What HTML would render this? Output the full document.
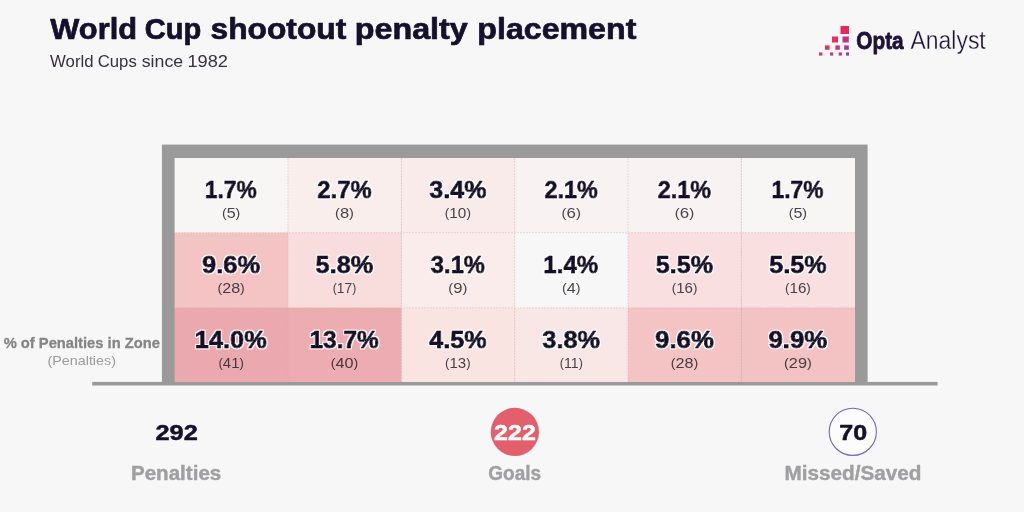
<!DOCTYPE html>
<html lang="en"><head><meta charset="utf-8"><title>World Cup shootout penalty placement</title>
<style>
html,body{margin:0;padding:0;background:#f7f7f7;}
body{width:1024px;height:512px;overflow:hidden;}
svg{display:block;}
text{font-family:"Liberation Sans",Arial,sans-serif;}
.num{font-weight:700;font-size:23.3px;fill:#15102b;stroke:#15102b;stroke-width:.9px;stroke-linejoin:round;filter:url(#halo);}
.sub{font-size:14.4px;fill:#222228;fill-opacity:.84;}
.p{font-size:12.7px;}
</style></head><body>
<svg width="1024" height="512" viewBox="0 0 1024 512">
<defs>
<filter id="halo" x="-10%" y="-20%" width="120%" height="140%">
<feMorphology in="SourceAlpha" operator="dilate" radius="1.2" result="d"/>
<feGaussianBlur in="d" stdDeviation="0.45" result="db"/>
<feFlood flood-color="#ffffff" flood-opacity="0.92"/>
<feComposite in2="db" operator="in" result="h"/>
<feMerge><feMergeNode in="h"/><feMergeNode in="SourceGraphic"/></feMerge>
</filter>
</defs>
<rect width="1024" height="512" fill="#f7f7f7"/>
<g id="logo">
<rect x="840.5" y="26" width="8.5" height="8" fill="#e8285a"/>
<rect x="832" y="36.5" width="6" height="6" fill="#e62e58"/>
<rect x="842.5" y="36.5" width="6.3" height="6" fill="#c52f8c"/>
<rect x="825" y="45.4" width="4.6" height="4.4" fill="#e23356"/>
<rect x="835.4" y="45.4" width="4.4" height="4.4" fill="#cc3478"/>
<rect x="844.2" y="45.4" width="4.6" height="4.4" fill="#a632ae"/>
<rect x="819" y="52.4" width="3.3" height="3.2" fill="#d53a62"/>
<rect x="830" y="52.4" width="3.2" height="3.2" fill="#c43a80"/>
<rect x="838.7" y="52.4" width="3.2" height="3.2" fill="#b03aa4"/>
<rect x="846" y="52.4" width="3" height="3.2" fill="#9a36b4"/>
</g>
<rect x="161.9" y="144.6" width="705.7" height="238.4" fill="#9a9a9a"/>
<rect x="92.2" y="381.9" width="845.4" height="3.6" fill="#9a9a9a"/>
<rect x="174.60" y="158.0" width="113.65" height="75.00" fill="#f8f5f5"/>
<rect x="287.95" y="158.0" width="113.65" height="75.00" fill="#f9eeec"/>
<rect x="401.30" y="158.0" width="113.65" height="75.00" fill="#f9ebe9"/>
<rect x="514.65" y="158.0" width="113.65" height="75.00" fill="#f8f3f2"/>
<rect x="628.00" y="158.0" width="113.65" height="75.00" fill="#f8f3f2"/>
<rect x="741.35" y="158.0" width="113.65" height="75.00" fill="#f8f5f5"/>
<rect x="174.60" y="232.7" width="113.65" height="75.40" fill="#f4c4c4"/>
<rect x="287.95" y="232.7" width="113.65" height="75.40" fill="#f9dcdc"/>
<rect x="401.30" y="232.7" width="113.65" height="75.40" fill="#f9eceb"/>
<rect x="514.65" y="232.7" width="113.65" height="75.40" fill="#f8f7f7"/>
<rect x="628.00" y="232.7" width="113.65" height="75.40" fill="#f9dfdf"/>
<rect x="741.35" y="232.7" width="113.65" height="75.40" fill="#f9dfdf"/>
<rect x="174.60" y="307.8" width="113.65" height="74.20" fill="#eba9af"/>
<rect x="287.95" y="307.8" width="113.65" height="74.20" fill="#ecacb1"/>
<rect x="401.30" y="307.8" width="113.65" height="74.20" fill="#f9e4e1"/>
<rect x="514.65" y="307.8" width="113.65" height="74.20" fill="#f9e7e5"/>
<rect x="628.00" y="307.8" width="113.65" height="74.20" fill="#f4c4c4"/>
<rect x="741.35" y="307.8" width="113.65" height="74.20" fill="#f3c2c2"/>
<line x1="287.95" y1="158" x2="287.95" y2="382" stroke="#c4b0b0" stroke-opacity=".48" stroke-width="0.9" stroke-dasharray="2 1"/>
<line x1="401.30" y1="158" x2="401.30" y2="382" stroke="#c4b0b0" stroke-opacity=".48" stroke-width="0.9" stroke-dasharray="2 1"/>
<line x1="514.65" y1="158" x2="514.65" y2="382" stroke="#c4b0b0" stroke-opacity=".48" stroke-width="0.9" stroke-dasharray="2 1"/>
<line x1="628.00" y1="158" x2="628.00" y2="382" stroke="#c4b0b0" stroke-opacity=".48" stroke-width="0.9" stroke-dasharray="2 1"/>
<line x1="741.35" y1="158" x2="741.35" y2="382" stroke="#c4b0b0" stroke-opacity=".48" stroke-width="0.9" stroke-dasharray="2 1"/>
<line x1="175" y1="232.7" x2="855" y2="232.7" stroke="#c4b0b0" stroke-opacity=".42" stroke-width="0.9" stroke-dasharray="2 1"/>
<line x1="175" y1="307.8" x2="855" y2="307.8" stroke="#c4b0b0" stroke-opacity=".42" stroke-width="0.9" stroke-dasharray="2 1"/>
<circle cx="514.9" cy="431.9" r="24.1" fill="#e1606b"/>
<circle cx="852.8" cy="431.8" r="23.6" fill="#fcfcfc" stroke="#7464c8" stroke-width="1.1"/>
<text id="title"><tspan x="50.36" y="39.4" font-size="30.0" fill="#15102b" font-weight="700" stroke="#15102b" stroke-width="0.7" stroke-linejoin="round" textLength="86.68" lengthAdjust="spacingAndGlyphs">World</tspan> <tspan x="144.83" y="39.4" font-size="30.0" fill="#15102b" font-weight="700" stroke="#15102b" stroke-width="0.7" stroke-linejoin="round" textLength="56.57" lengthAdjust="spacingAndGlyphs">Cup</tspan> <tspan x="210.51" y="39.4" font-size="30.0" fill="#15102b" font-weight="700" stroke="#15102b" stroke-width="0.7" stroke-linejoin="round" textLength="135.74" lengthAdjust="spacingAndGlyphs">shootout</tspan> <tspan x="354.72" y="39.4" font-size="30.0" fill="#15102b" font-weight="700" stroke="#15102b" stroke-width="0.7" stroke-linejoin="round" textLength="113.05" lengthAdjust="spacingAndGlyphs">penalty</tspan> <tspan x="477.32" y="39.4" font-size="30.0" fill="#15102b" font-weight="700" stroke="#15102b" stroke-width="0.7" stroke-linejoin="round" textLength="159.03" lengthAdjust="spacingAndGlyphs">placement</tspan></text>
<text id="subtitle"><tspan x="50.05" y="66.5" font-size="16.6" fill="#36323a" textLength="43.51" lengthAdjust="spacingAndGlyphs">World</tspan> <tspan x="97.74" y="66.5" font-size="16.6" fill="#36323a" textLength="39.01" lengthAdjust="spacingAndGlyphs">Cups</tspan> <tspan x="141.77" y="66.5" font-size="16.6" fill="#36323a" textLength="41.33" lengthAdjust="spacingAndGlyphs">since</tspan> <tspan x="187.43" y="66.5" font-size="16.6" fill="#36323a" textLength="40.48" lengthAdjust="spacingAndGlyphs">1982</tspan></text>
<text x="856.37" y="49.2" font-size="24.0" fill="#1e1235" font-weight="700" stroke="#1e1235" stroke-width="0.8" stroke-linejoin="round" textLength="47.23" lengthAdjust="spacingAndGlyphs">Opta</text>
<text x="910.60" y="49.2" font-size="24.9" fill="#1e1235" stroke="#f7f7f7" stroke-width="0.3" textLength="75.12" lengthAdjust="spacingAndGlyphs">Analyst</text>
<text class="num" x="204.69" y="198.1" textLength="52.09" lengthAdjust="spacingAndGlyphs">1.7%</text>
<text class="sub" x="221.99" y="218.1" textLength="18.35" lengthAdjust="spacingAndGlyphs"><tspan class="p" dy="-1.3">(</tspan><tspan dy="1.3">5</tspan><tspan class="p" dy="-1.3">)</tspan></text>
<text class="num" x="317.27" y="198.1" textLength="54.37" lengthAdjust="spacingAndGlyphs">2.7%</text>
<text class="sub" x="335.06" y="218.1" textLength="18.90" lengthAdjust="spacingAndGlyphs"><tspan class="p" dy="-1.3">(</tspan><tspan dy="1.3">8</tspan><tspan class="p" dy="-1.3">)</tspan></text>
<text class="num" x="429.38" y="198.1" textLength="57.12" lengthAdjust="spacingAndGlyphs">3.4%</text>
<text class="sub" x="444.83" y="218.1" textLength="26.08" lengthAdjust="spacingAndGlyphs"><tspan class="p" dy="-1.3">(</tspan><tspan dy="1.3">10</tspan><tspan class="p" dy="-1.3">)</tspan></text>
<text class="num" x="544.47" y="198.1" textLength="53.36" lengthAdjust="spacingAndGlyphs">2.1%</text>
<text class="sub" x="561.54" y="218.1" textLength="19.34" lengthAdjust="spacingAndGlyphs"><tspan class="p" dy="-1.3">(</tspan><tspan dy="1.3">6</tspan><tspan class="p" dy="-1.3">)</tspan></text>
<text class="num" x="657.82" y="198.1" textLength="53.36" lengthAdjust="spacingAndGlyphs">2.1%</text>
<text class="sub" x="674.89" y="218.1" textLength="19.34" lengthAdjust="spacingAndGlyphs"><tspan class="p" dy="-1.3">(</tspan><tspan dy="1.3">6</tspan><tspan class="p" dy="-1.3">)</tspan></text>
<text class="num" x="771.44" y="198.1" textLength="52.09" lengthAdjust="spacingAndGlyphs">1.7%</text>
<text class="sub" x="788.74" y="218.1" textLength="18.35" lengthAdjust="spacingAndGlyphs"><tspan class="p" dy="-1.3">(</tspan><tspan dy="1.3">5</tspan><tspan class="p" dy="-1.3">)</tspan></text>
<text class="num" x="202.00" y="272.8" textLength="58.19" lengthAdjust="spacingAndGlyphs">9.6%</text>
<text class="sub" x="217.49" y="292.8" textLength="27.36" lengthAdjust="spacingAndGlyphs"><tspan class="p" dy="-1.3">(</tspan><tspan dy="1.3">28</tspan><tspan class="p" dy="-1.3">)</tspan></text>
<text class="num" x="315.60" y="272.8" textLength="57.69" lengthAdjust="spacingAndGlyphs">5.8%</text>
<text class="sub" x="332.81" y="292.8" textLength="23.42" lengthAdjust="spacingAndGlyphs"><tspan class="p" dy="-1.3">(</tspan><tspan dy="1.3">17</tspan><tspan class="p" dy="-1.3">)</tspan></text>
<text class="num" x="430.88" y="272.8" textLength="54.11" lengthAdjust="spacingAndGlyphs">3.1%</text>
<text class="sub" x="448.36" y="292.8" textLength="19.01" lengthAdjust="spacingAndGlyphs"><tspan class="p" dy="-1.3">(</tspan><tspan dy="1.3">9</tspan><tspan class="p" dy="-1.3">)</tspan></text>
<text class="num" x="543.34" y="272.8" textLength="54.85" lengthAdjust="spacingAndGlyphs">1.4%</text>
<text class="sub" x="561.93" y="292.8" textLength="18.57" lengthAdjust="spacingAndGlyphs"><tspan class="p" dy="-1.3">(</tspan><tspan dy="1.3">4</tspan><tspan class="p" dy="-1.3">)</tspan></text>
<text class="num" x="655.80" y="272.8" textLength="57.39" lengthAdjust="spacingAndGlyphs">5.5%</text>
<text class="sub" x="671.69" y="292.8" textLength="25.76" lengthAdjust="spacingAndGlyphs"><tspan class="p" dy="-1.3">(</tspan><tspan dy="1.3">16</tspan><tspan class="p" dy="-1.3">)</tspan></text>
<text class="num" x="769.15" y="272.8" textLength="57.39" lengthAdjust="spacingAndGlyphs">5.5%</text>
<text class="sub" x="785.04" y="292.8" textLength="25.76" lengthAdjust="spacingAndGlyphs"><tspan class="p" dy="-1.3">(</tspan><tspan dy="1.3">16</tspan><tspan class="p" dy="-1.3">)</tspan></text>
<text class="num" x="194.84" y="348.3" textLength="71.93" lengthAdjust="spacingAndGlyphs">14.0%</text>
<text class="sub" x="218.45" y="367.9" textLength="25.44" lengthAdjust="spacingAndGlyphs"><tspan class="p" dy="-1.3">(</tspan><tspan dy="1.3">41</tspan><tspan class="p" dy="-1.3">)</tspan></text>
<text class="num" x="309.47" y="348.3" textLength="69.38" lengthAdjust="spacingAndGlyphs">13.7%</text>
<text class="sub" x="330.78" y="367.9" textLength="27.47" lengthAdjust="spacingAndGlyphs"><tspan class="p" dy="-1.3">(</tspan><tspan dy="1.3">40</tspan><tspan class="p" dy="-1.3">)</tspan></text>
<text class="num" x="429.27" y="348.3" textLength="57.32" lengthAdjust="spacingAndGlyphs">4.5%</text>
<text class="sub" x="445.09" y="367.9" textLength="25.55" lengthAdjust="spacingAndGlyphs"><tspan class="p" dy="-1.3">(</tspan><tspan dy="1.3">13</tspan><tspan class="p" dy="-1.3">)</tspan></text>
<text class="num" x="542.37" y="348.3" textLength="57.82" lengthAdjust="spacingAndGlyphs">3.8%</text>
<text class="sub" x="559.84" y="367.9" textLength="22.94" lengthAdjust="spacingAndGlyphs"><tspan class="p" dy="-1.3">(</tspan><tspan dy="1.3">11</tspan><tspan class="p" dy="-1.3">)</tspan></text>
<text class="num" x="655.05" y="348.3" textLength="58.90" lengthAdjust="spacingAndGlyphs">9.6%</text>
<text class="sub" x="670.78" y="367.9" textLength="27.57" lengthAdjust="spacingAndGlyphs"><tspan class="p" dy="-1.3">(</tspan><tspan dy="1.3">28</tspan><tspan class="p" dy="-1.3">)</tspan></text>
<text class="num" x="768.40" y="348.3" textLength="58.90" lengthAdjust="spacingAndGlyphs">9.9%</text>
<text class="sub" x="784.08" y="367.9" textLength="27.68" lengthAdjust="spacingAndGlyphs"><tspan class="p" dy="-1.3">(</tspan><tspan dy="1.3">29</tspan><tspan class="p" dy="-1.3">)</tspan></text>
<text x="3.66" y="347.6" font-size="15.4" fill="#858587" font-weight="700" stroke="#858587" stroke-width="0.3" stroke-linejoin="round" textLength="156.27" lengthAdjust="spacingAndGlyphs">% of Penalties in Zone</text>
<text x="47.49" y="364.8" font-size="13.2" fill="#9c9c9e" textLength="68.48" lengthAdjust="spacingAndGlyphs">(Penalties)</text>
<text x="155.53" y="439.6" font-size="22.2" fill="#15102b" font-weight="700" stroke="#15102b" stroke-width="0.5" stroke-linejoin="round" textLength="42.28" lengthAdjust="spacingAndGlyphs">292</text>
<text x="130.93" y="480.2" font-size="19.3" fill="#a0a0a2" font-weight="700" stroke="#a0a0a2" stroke-width="0.4" stroke-linejoin="round" textLength="90.38" lengthAdjust="spacingAndGlyphs">Penalties</text>
<text x="494.14" y="439.6" font-size="22.2" fill="#ffffff" font-weight="700" stroke="#ffffff" stroke-width="0.5" stroke-linejoin="round" textLength="41.66" lengthAdjust="spacingAndGlyphs">222</text>
<text x="488.31" y="480.2" font-size="19.3" fill="#a0a0a2" font-weight="700" stroke="#a0a0a2" stroke-width="0.4" stroke-linejoin="round" textLength="52.78" lengthAdjust="spacingAndGlyphs">Goals</text>
<text x="839.35" y="439.6" font-size="22.2" fill="#15102b" font-weight="700" stroke="#15102b" stroke-width="0.5" stroke-linejoin="round" textLength="27.93" lengthAdjust="spacingAndGlyphs">70</text>
<text x="784.53" y="480.2" font-size="19.3" fill="#a0a0a2" font-weight="700" stroke="#a0a0a2" stroke-width="0.4" stroke-linejoin="round" textLength="136.98" lengthAdjust="spacingAndGlyphs">Missed/Saved</text>
</svg>
</body></html>
